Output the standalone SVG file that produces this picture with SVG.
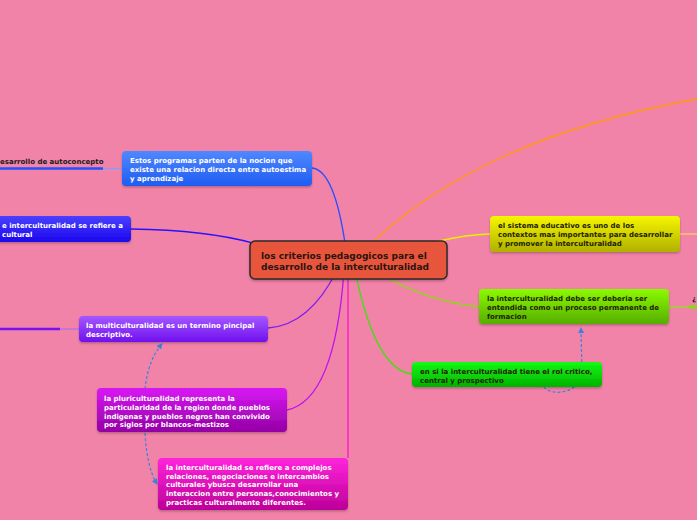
<svg xmlns="http://www.w3.org/2000/svg" width="697" height="520" viewBox="0 0 697 520">
<defs>
<style>
.t{font-family:"DejaVu Sans","Verdana",sans-serif;font-weight:bold;font-size:7px}
.w{fill:#ffffff}
.d{fill:#222200}
.c{fill:none;stroke-width:1.3}
.dash{fill:none;stroke:#3a82dd;stroke-width:1.2;stroke-dasharray:3 2}
</style>
<filter id="sh" x="-10%" y="-20%" width="120%" height="150%"><feDropShadow dx="0" dy="1.5" stdDeviation="1.2" flood-color="#000" flood-opacity="0.25"/></filter>
<linearGradient id="g1" x1="0" y1="0" x2="0" y2="1"><stop offset="0" stop-color="#4f88ff"/><stop offset="1" stop-color="#1f5cf2"/></linearGradient>
<linearGradient id="g2" x1="0" y1="0" x2="0" y2="1"><stop offset="0" stop-color="#4a40ff"/><stop offset="1" stop-color="#1c06ee"/></linearGradient>
<linearGradient id="g3" x1="0" y1="0" x2="0" y2="1"><stop offset="0" stop-color="#a458ff"/><stop offset="1" stop-color="#7010ee"/></linearGradient>
<linearGradient id="g4" x1="0" y1="0" x2="0" y2="1"><stop offset="0" stop-color="#d818f4"/><stop offset="1" stop-color="#9400a4"/></linearGradient>
<linearGradient id="g5" x1="0" y1="0" x2="0" y2="1"><stop offset="0" stop-color="#ff24dc"/><stop offset="1" stop-color="#bc0098"/></linearGradient>
<linearGradient id="g6" x1="0" y1="0" x2="0" y2="1"><stop offset="0" stop-color="#f6f600"/><stop offset="1" stop-color="#b0b000"/></linearGradient>
<linearGradient id="g8" x1="0" y1="0" x2="0" y2="1"><stop offset="0" stop-color="#8cfa00"/><stop offset="1" stop-color="#56ae00"/></linearGradient>
<linearGradient id="g9" x1="0" y1="0" x2="0" y2="1"><stop offset="0" stop-color="#14fa14"/><stop offset="1" stop-color="#00b200"/></linearGradient>
<marker id="ar" viewBox="0 0 6 6" refX="5" refY="3" markerWidth="5" markerHeight="5" orient="auto"><path d="M0,0 L6,3 L0,6 z" fill="#3a82dd"/></marker>
</defs>
<rect width="697" height="520" fill="#f283a8"/>

<g id="connectors">
<path class="c" stroke="#ff9a00" stroke-width="1.6" d="M360,255 Q470,140 697,99"/>
<path class="c" stroke="#f0ee00" d="M400,255 Q440,236 490,234"/>
<path class="c" stroke="#f4d070" d="M680,234 L697,234"/>
<path class="c" stroke="#2050ff" d="M312,168 Q335,170 346,250"/>
<path class="c" stroke="#2a10ff" d="M131,229 Q210,230 260,245"/>
<path class="c" stroke="#8020f0" d="M268,328 Q310,325 337,270"/>
<path class="c" stroke="#c010f0" d="M287,410 Q335,400 344,270"/>
<path class="c" stroke="#ff10d0" stroke-width="1.6" d="M348,270 L348,458"/>
<path class="c" stroke="#40e010" d="M355,270 Q375,370 412,374"/>
<path class="c" stroke="#80e400" d="M375,270 Q420,300 479,307"/>
<path class="c" stroke="#90e020" d="M669,307 L697,307"/>
<path fill="none" stroke="#80e000" stroke-width="3" d="M689,307 L697,307"/>
<path fill="none" stroke="#2050ff" stroke-width="2.6" d="M0,168.5 L103,168.5"/>
<path fill="none" stroke="#7da0ff" stroke-width="1.3" d="M103,168.5 L122,168.5"/>
<path fill="none" stroke="#7a10f0" stroke-width="2.6" d="M0,329 L60,329"/>
<path fill="none" stroke="#b070f0" stroke-width="1.3" d="M60,329 L79,329"/>
<path class="dash" d="M145,389 Q148,360 162,344" marker-end="url(#ar)"/>
<path class="dash" d="M145,433 Q147,468 157,484" marker-end="url(#ar)"/>
<path class="dash" d="M544,387 C550,396 580,395 582,372 L581,328" marker-end="url(#ar)"/>
</g>

<g id="center">
<rect x="250" y="241" width="197" height="38" rx="5" fill="#e8543e" stroke="#2a2a2a" stroke-width="1.5" filter="url(#sh)"/>
<text class="t" style="font-size:9px" fill="#2a1410"><tspan x="261" y="259">los criterios pedagogicos para el</tspan><tspan x="261" y="270">desarrollo de la interculturalidad</tspan></text>
</g>

<g id="n1">
<rect x="122" y="151" width="190" height="35" rx="4" fill="url(#g1)" filter="url(#sh)"/>
<text class="t w"><tspan x="130" y="163">Estos programas parten de la nocion que</tspan><tspan x="130" y="172">existe una relacion directa entre autoestima</tspan><tspan x="130" y="181">y aprendizaje</tspan></text>
</g>

<g id="n1b">
<text class="t" fill="#1a1a1a" x="0" y="164">esarrollo de autoconcepto</text>
</g>

<g id="n2">
<rect x="-10" y="216" width="141" height="26" rx="4" fill="url(#g2)" filter="url(#sh)"/>
<text class="t w"><tspan x="2" y="228">e interculturalidad se refiere a</tspan><tspan x="2" y="237">cultural</tspan></text>
</g>

<g id="n3">
<rect x="79" y="316" width="189" height="26" rx="4" fill="url(#g3)" filter="url(#sh)"/>
<text class="t w"><tspan x="86" y="328">la multiculturalidad es un termino pincipal</tspan><tspan x="86" y="337">descriptivo.</tspan></text>
</g>

<g id="n4">
<rect x="97" y="388" width="190" height="44" rx="4" fill="url(#g4)" filter="url(#sh)"/>
<text class="t w"><tspan x="104" y="401">la pluriculturalidad representa la</tspan><tspan x="104" y="410">particularidad de la region donde pueblos</tspan><tspan x="104" y="418.5">indigenas y pueblos negros han convivido</tspan><tspan x="104" y="427">por siglos por blancos-mestizos</tspan></text>
</g>

<g id="n5">
<rect x="158" y="458" width="190" height="52" rx="4" fill="url(#g5)" filter="url(#sh)"/>
<text class="t w"><tspan x="166" y="469.5">la interculturalidad se refiere a complejos</tspan><tspan x="166" y="478.5">relaciones, negociaciones e intercambios</tspan><tspan x="166" y="487">culturales ybusca desarrollar una</tspan><tspan x="166" y="496">interaccion entre personas,conocimientos y</tspan><tspan x="166" y="504.5">practicas culturalmente diferentes.</tspan></text>
</g>

<g id="n6">
<rect x="490" y="216" width="190" height="36" rx="4" fill="url(#g6)" filter="url(#sh)"/>
<text class="t d"><tspan x="498" y="228">el sistema educativo es uno de los</tspan><tspan x="498" y="237">contextos mas importantes para desarrollar</tspan><tspan x="498" y="245.5">y promover la interculturalidad</tspan></text>
</g>

<g id="n8">
<rect x="479" y="289" width="190" height="35" rx="4" fill="url(#g8)" filter="url(#sh)"/>
<text class="t d"><tspan x="487" y="301">la interculturalidad debe ser deberia ser</tspan><tspan x="487" y="310">entendida como un proceso permanente de</tspan><tspan x="487" y="319">formacion</tspan></text>
</g>

<g id="n8b">
<text class="t" fill="#1a1a1a" x="692" y="301">¿</text>
</g>

<g id="n9">
<rect x="412" y="362" width="190" height="25" rx="4" fill="url(#g9)" filter="url(#sh)"/>
<text class="t d"><tspan x="420" y="374">en si la interculturalidad tiene el rol critico,</tspan><tspan x="420" y="383">central y prospectivo</tspan></text>
</g>
</svg>
